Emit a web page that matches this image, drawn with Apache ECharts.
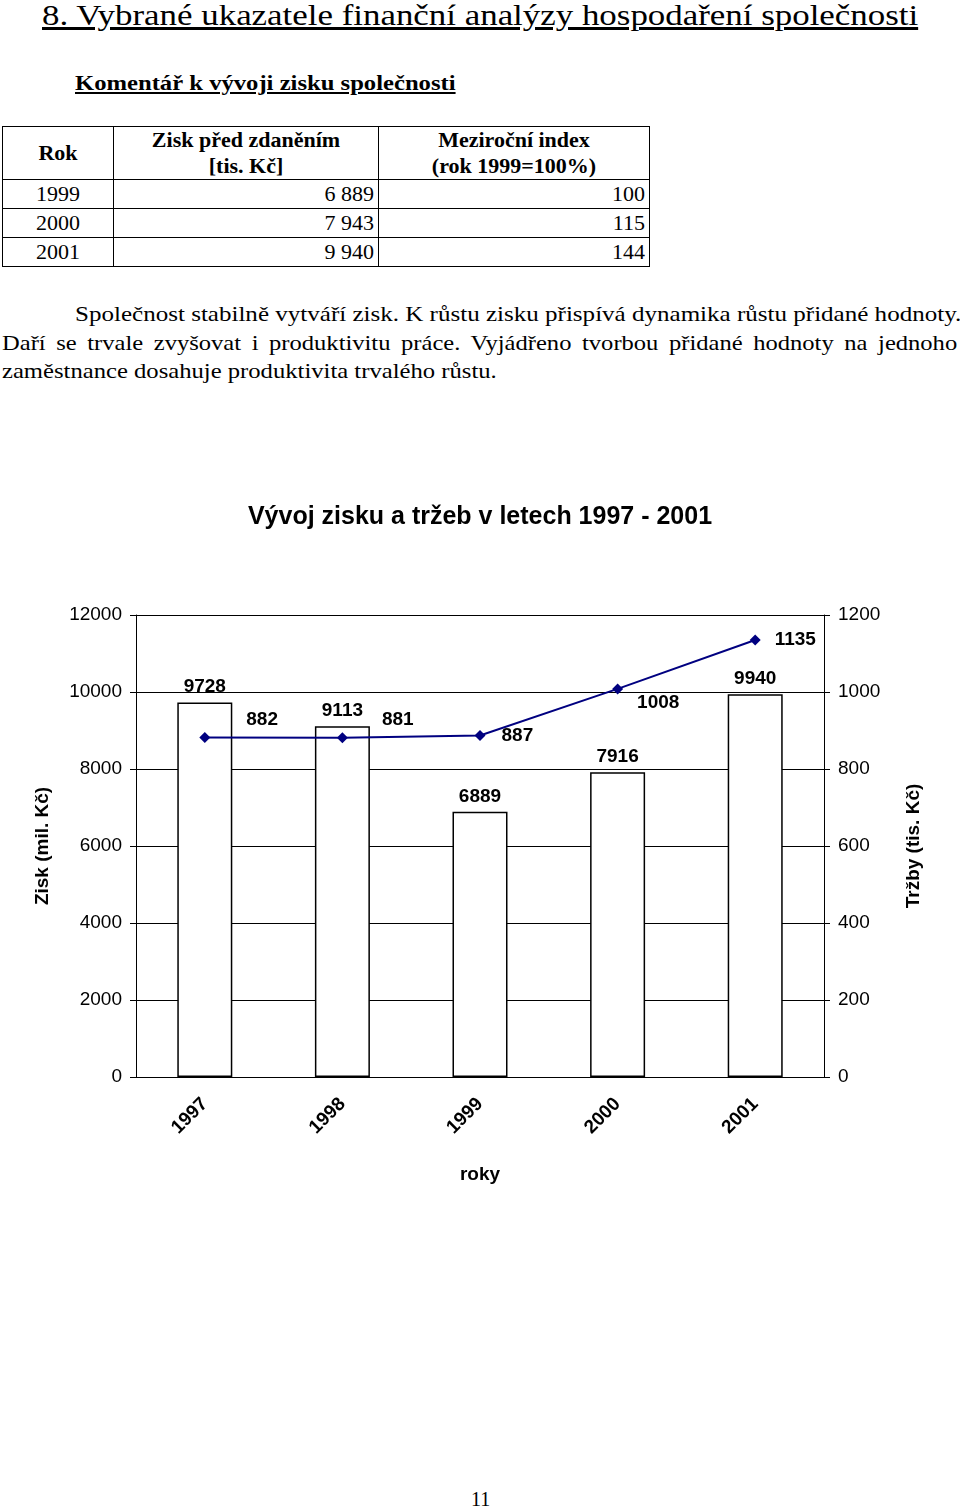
<!DOCTYPE html>
<html><head><meta charset="utf-8">
<script src="https://cdn.jsdelivr.net/npm/echarts@6/dist/echarts.min.js"></script>
<style>
body{margin:0;width:960px;height:1511px;position:relative;font-family:"Liberation Serif","Times New Roman",serif;background:#fff;color:#000}
.t{position:absolute;white-space:nowrap;transform-origin:0 0}
table{position:absolute;left:2px;top:126px;border-collapse:collapse;font-size:22px}
td{border:1px solid #000;padding:0 4px;height:28px}
</style></head><body>
<div class="t" style="left:42px;top:-2px;font-size:30px;text-decoration:underline;transform:scaleX(1.163)">8. Vybrané ukazatele finanční analýzy hospodaření společnosti</div>
<div class="t" style="left:75px;top:70px;font-size:22px;font-weight:bold;text-decoration:underline;transform:scaleX(1.12)">Komentář k vývoji zisku společnosti</div>
<table>
<tr style="font-weight:bold"><td style="width:102px;height:52px;text-align:center">Rok</td><td style="width:256px;text-align:center;line-height:26px">Zisk před zdaněním<br>[tis. Kč]</td><td style="width:262px;text-align:center;line-height:26px">Meziroční index<br>(rok 1999=100%)</td></tr>
<tr><td style="text-align:center">1999</td><td style="text-align:right">6 889</td><td style="text-align:right">100</td></tr>
<tr><td style="text-align:center">2000</td><td style="text-align:right">7 943</td><td style="text-align:right">115</td></tr>
<tr><td style="text-align:center">2001</td><td style="text-align:right">9 940</td><td style="text-align:right">144</td></tr>
</table>
<div class="t" style="left:75px;top:301px;font-size:22px;transform:scaleX(1.138)">Společnost stabilně vytváří zisk. K růstu zisku přispívá dynamika růstu přidané hodnoty.</div>
<div class="t" style="left:2px;top:330px;font-size:22px;word-spacing:4px;transform:scaleX(1.116)">Daří se trvale zvyšovat i produktivitu práce. Vyjádřeno tvorbou přidané hodnoty na jednoho</div>
<div class="t" style="left:2px;top:358px;font-size:22px;transform:scaleX(1.12)">zaměstnance dosahuje produktivita trvalého růstu.</div>
<div id="c" style="position:absolute;left:0;top:480px;width:960px;height:720px"></div>
<div class="t" style="left:471px;top:1488px;font-size:20px">11</div>
<script>
var years=['1997','1998','1999','2000','2001'];
var zisk=[9728,9113,6889,7916,9940];
var trzby=[882,881,887,1008,1135];
var lblOff=[[30,-18],[28,-18],[10,0],[8,14],[8,0]];
var ch=echarts.init(document.getElementById('c'));
var f='Liberation Sans, Arial, sans-serif';
var plain=function(v){return String(v);};
ch.setOption({
 animation:false,
 title:{text:'Vývoj zisku a tržeb v letech 1997 - 2001',left:'center',top:20,textStyle:{fontFamily:f,fontSize:25,fontWeight:'bold',color:'#000'}},
 grid:{left:136,right:136,top:135,bottom:123},
 xAxis:{type:'category',data:years,name:'roky',nameLocation:'middle',nameGap:88,nameTextStyle:{fontFamily:f,fontSize:19,fontWeight:'bold',color:'#000'},
  axisLine:{lineStyle:{color:'#000'}},axisTick:{length:7,lineStyle:{color:'#000'}},
  axisLabel:{rotate:45,margin:24,fontFamily:f,fontSize:19,fontWeight:'bold',color:'#000'}},
 yAxis:[{type:'value',min:0,max:12000,interval:2000,name:'Zisk (mil. Kč)',nameLocation:'middle',nameGap:84,
  nameTextStyle:{fontFamily:f,fontSize:19,fontWeight:'bold',color:'#000'},
  axisLine:{show:true,lineStyle:{color:'#000'}},axisTick:{show:true,length:6,lineStyle:{color:'#000'}},
  axisLabel:{margin:14,fontFamily:f,fontSize:19,color:'#000',formatter:plain},splitLine:{lineStyle:{color:'#000',width:1}}},
  {type:'value',min:0,max:1200,interval:200,name:'Tržby (tis. Kč)',nameLocation:'middle',nameGap:80,nameRotate:90,
  nameTextStyle:{fontFamily:f,fontSize:19,fontWeight:'bold',color:'#000'},
  axisLine:{show:true,lineStyle:{color:'#000'}},axisTick:{show:true,length:6,lineStyle:{color:'#000'}},
  axisLabel:{margin:14,fontFamily:f,fontSize:19,color:'#000',formatter:plain},splitLine:{show:false}}],
 series:[{type:'bar',data:zisk,barWidth:55,itemStyle:{color:'#fff',borderColor:'#000',borderWidth:1.5},
   label:{show:true,position:'top',distance:6,fontFamily:f,fontSize:19,fontWeight:'bold',color:'#000'}},
  {type:'line',yAxisIndex:1,data:trzby.map(function(v,i){return {value:v,label:{offset:lblOff[i]}};}),
   symbol:'diamond',symbolSize:11,lineStyle:{color:'#000080',width:2},itemStyle:{color:'#000080'},
   label:{show:true,position:'right',distance:6,fontFamily:f,fontSize:19,fontWeight:'bold',color:'#000'}}]
});
</script></body></html>
